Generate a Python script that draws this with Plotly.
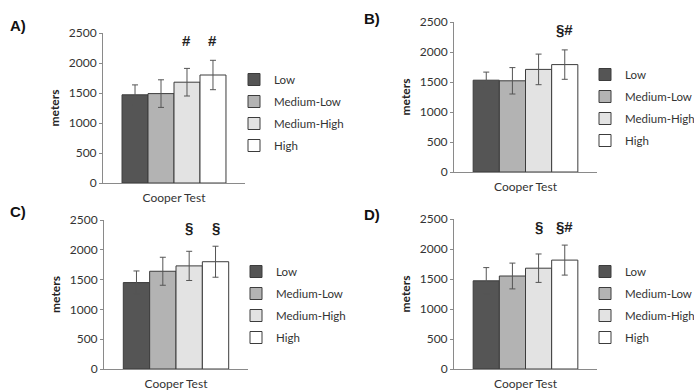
import plotly.graph_objects as go

W, H = 694, 390

groups = ["Low", "Medium-Low", "Medium-High", "High"]
category = ["Cooper Test"]
colors = ["#555555", "#b3b3b3", "#e3e3e3", "#ffffff"]

panel_labels = ["A)", "B)", "C)", "D)"]

means_A = [1470, 1490, 1680, 1800]
err_A = [165, 230, 230, 245]
sig_A = ["", "", "#", "#"]

means_B = [1530, 1520, 1710, 1790]
err_B = [135, 220, 255, 245]
sig_B = ["", "", "", "§#"]

means_C = [1450, 1640, 1730, 1800]
err_C = [195, 235, 245, 260]
sig_C = ["", "", "§", "§"]

means_D = [1470, 1550, 1680, 1815]
err_D = [220, 215, 237, 250]
sig_D = ["", "", "§", "§#"]

y_ticks = [0, 500, 1000, 1500, 2000, 2500]

panels = [
    (means_A, err_A, sig_A),
    (means_B, err_B, sig_B),
    (means_C, err_C, sig_C),
    (means_D, err_D, sig_D),
]

# pixel layout: (x0, x1, y_top(2500), y_bottom(0))
boxes = [
    (103, 245, 33, 183),
    (454, 597, 22, 172),
    (104, 248, 220, 369),
    (454, 597, 219, 369),
]
legend_pos = [(234, 65), (585, 60), (236, 257), (585, 257)]
label_pos = [(18, 26), (372, 18), (18, 212), (372, 214)]

BARGAP = 0.268
font_family = "Lato, 'Open Sans', sans-serif"

fig = go.Figure()
layout = dict(
    width=W, height=H,
    margin=dict(l=0, r=0, t=0, b=0, autoexpand=False),
    paper_bgcolor="white", plot_bgcolor="white",
    barmode="group", bargap=BARGAP, bargroupgap=0,
    showlegend=True,
    font=dict(family=font_family, size=11, color="#333333"),
)
annotations = []

for p, ((means, errs, sigs), (x0, x1, yt, yb)) in enumerate(zip(panels, boxes)):
    idx = "" if p == 0 else str(p + 1)
    xa, ya = "x" + idx, "y" + idx
    leg = "legend" if p == 0 else "legend" + str(p + 1)
    for i, g in enumerate(groups):
        fig.add_trace(go.Bar(
            x=category, y=[means[i]], name=g,
            marker=dict(color=colors[i], line=dict(color="#3c3c3c", width=1)),
            error_y=dict(type="data", array=[errs[i]], color="#555555", thickness=1, width=3),
            xaxis=xa, yaxis=ya, legend=leg, legendgroup=f"p{p}g{i}",
        ))
    layout["xaxis" + idx] = dict(
        domain=[x0 / W, x1 / W], anchor=ya,
        showline=True, linecolor="#8a8a8a", linewidth=1,
        ticks="", showgrid=False, zeroline=False,
        tickfont=dict(size=12, color="#333333"), ticklabelstandoff=4,
    )
    layout["yaxis" + idx] = dict(
        domain=[1 - yb / H, 1 - yt / H], anchor=xa,
        range=[0, 2500], tickvals=y_ticks,
        showline=True, linecolor="#8a8a8a", linewidth=1,
        ticks="outside", ticklen=3, tickcolor="#8a8a8a",
        showgrid=False, zeroline=False,
        tickfont=dict(size=12, color="#333333"),
        title=dict(text="<b>meters</b>", font=dict(size=12, color="#222222"), standoff=6),
    )
    lx, ly = legend_pos[p]
    layout[leg] = dict(
        x=lx / W, y=1 - ly / H, xanchor="left", yanchor="top",
        font=dict(size=11.5, color="#333333"), bgcolor="rgba(0,0,0,0)",
        traceorder="grouped", tracegroupgap=3, itemwidth=30,
    )
    # significance marks above bars
    n = len(groups)
    gw = 1 - BARGAP
    for i, s in enumerate(sigs):
        if s:
            xc = -gw / 2 + gw / n * (i + 0.5)
            annotations.append(dict(
                x=xc, y=2200, xref=xa, yref=ya, text="<b>" + s + "</b>",
                showarrow=False, yanchor="bottom",
                font=dict(size=15, color="#222222", family="Arial, sans-serif"),
            ))
    tx, ty = label_pos[p]
    annotations.append(dict(
        x=tx / W, y=1 - ty / H, xref="paper", yref="paper",
        text="<b>" + panel_labels[p] + "</b>", showarrow=False,
        xanchor="center", yanchor="middle",
        font=dict(size=15, color="#111111", family="Arial, sans-serif"),
    ))

layout["annotations"] = annotations
fig.update_layout(**layout)
fig.write_html(
    "out.html",
    config={"displayModeBar": False},
    post_script="document.body.style.margin='0px';document.body.style.overflow='hidden';",
)
